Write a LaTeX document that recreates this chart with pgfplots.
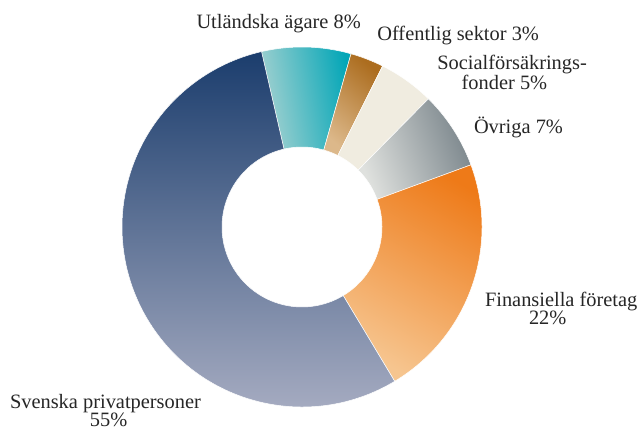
\documentclass[border=0pt]{standalone}
\usepackage{pgfplots}
\pgfplotsset{compat=1.18}
\usepackage{pgfplotstable}
\usepackage{fontspec}
\setmainfont{Liberation Serif}
\definecolor{svA}{HTML}{1B3D6D}
\definecolor{svB}{HTML}{AEB2C6}
\definecolor{fiA}{HTML}{EE7A18}
\definecolor{fiB}{HTML}{F6C58F}
\definecolor{ovA}{HTML}{7A858B}
\definecolor{ovB}{HTML}{DFE1DE}
\definecolor{soA}{HTML}{F0ECE0}
\definecolor{ofA}{HTML}{AC6D1F}
\definecolor{ofB}{HTML}{DCB88A}
\definecolor{utA}{HTML}{02A6B7}
\definecolor{utB}{HTML}{A7D2D1}

\pgfplotstableread{
pct
8
3
5
7
22
55
}\shares

\pgfmathsetmacro\aA{103}%
\pgfplotstablegetelem{0}{pct}\of\shares \pgfmathsetmacro\aB{\aA-3.6*\pgfplotsretval}%
\pgfplotstablegetelem{1}{pct}\of\shares \pgfmathsetmacro\aC{\aB-3.6*\pgfplotsretval}%
\pgfplotstablegetelem{2}{pct}\of\shares \pgfmathsetmacro\aD{\aC-3.6*\pgfplotsretval}%
\pgfplotstablegetelem{3}{pct}\of\shares \pgfmathsetmacro\aE{\aD-3.6*\pgfplotsretval}%
\pgfplotstablegetelem{4}{pct}\of\shares \pgfmathsetmacro\aF{\aE-3.6*\pgfplotsretval}%
\pgfplotstablegetelem{5}{pct}\of\shares \pgfmathsetmacro\aG{\aF-3.6*\pgfplotsretval}%

\newcommand\donutwedge[3]{%
  \path[#3] ([shift={(#1:180pt)}]axis cs:302,203) arc[start angle=#1, end angle=#2, radius=180pt]
    -- ([shift={(#2:80pt)}]axis cs:302,203) arc[start angle=#2, end angle=#1, radius=80pt] -- cycle;}

\begin{document}%
\begin{tikzpicture}
\useasboundingbox (0,0) rectangle (638pt,430pt);
\begin{axis}[
  at={(0,0)}, anchor=south west,
  x=1pt, y=1pt, xmin=0, xmax=638, ymin=0, ymax=430,
  hide axis, clip=false, scale only axis,
  xtick=\empty, ytick=\empty,
]
\addplot[draw=none] coordinates {(0,0) (638,430)};
\donutwedge{\aA}{\aB}{top color=utA, bottom color=utB, shading angle=-80, draw=white, line width=0.5pt}
\donutwedge{\aB}{\aC}{top color=ofA, bottom color=ofB, shading angle=-40, draw=white, line width=0.5pt}
\donutwedge{\aC}{\aD}{fill=soA, draw=white, line width=0.5pt}
\donutwedge{\aD}{\aE}{top color=ovA, bottom color=ovB, shading angle=-70, draw=white, line width=0.5pt}
\donutwedge{\aE}{\aF}{top color=fiA, bottom color=fiB, shading angle=-30, draw=white, line width=0.5pt}
\donutwedge{\aF}{\aG}{top color=svA, bottom color=svB, draw=white, line width=0.5pt}
\begin{scope}[every node/.style={inner sep=0pt, outer sep=0pt, anchor=base west, text=black!85}]
\node[font=\fontsize{20.4}{18}\selectfont] at (axis cs:196.5,401.7) {Utländska ägare 8\%};
\node[font=\fontsize{20.4}{18}\selectfont] at (axis cs:377.3,389) {Offentlig sektor 3\%};
\node[font=\fontsize{20.4}{16.6}\selectfont, align=left] at (axis cs:437.3,340.7) {Socialförsäkrings-\\\hspace*{24.4pt}fonder 5\%};
\node[font=\fontsize{20.4}{18}\selectfont] at (axis cs:474,296.7) {Övriga 7\%};
\node[font=\fontsize{20.4}{18.3}\selectfont, align=left] at (axis cs:485,105) {Finansiella företag\\\hspace*{44pt}22\%};
\node[font=\fontsize{20.4}{18.4}\selectfont, align=left] at (axis cs:10,3.3) {Svenska privatpersoner\\\hspace*{80pt}55\%};
\end{scope}
\end{axis}
\end{tikzpicture}%
\end{document}
